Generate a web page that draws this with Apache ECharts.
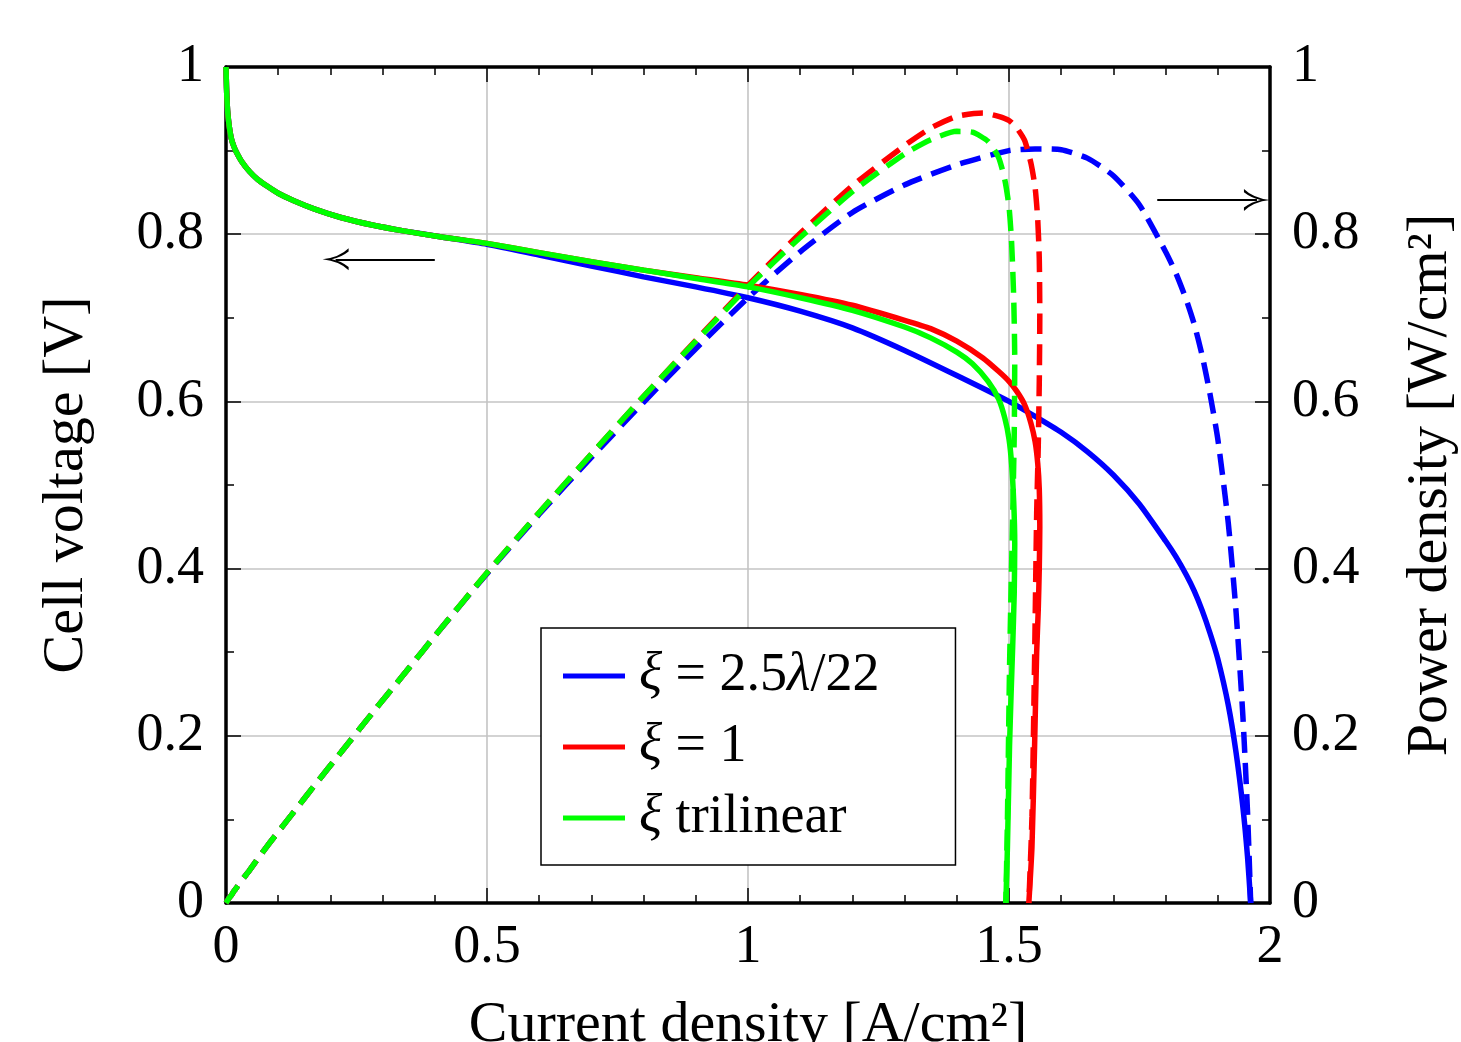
<!DOCTYPE html>
<html>
<head>
<meta charset="utf-8">
<title>Polarization curves</title>
</head>
<body style="margin:0">
<div id="main" style="width:1461px;height:1042px;"></div>
<script src="https://cdn.jsdelivr.net/npm/echarts@6/dist/echarts.min.js"></script>
<script>
// current density [A/cm2], cell voltage [V], power density [W/cm2]
var curBlue = [0, 0.001, 0.003, 0.006, 0.01, 0.015, 0.02, 0.03, 0.045, 0.06, 0.08, 0.1, 0.13, 0.17, 0.22, 0.28, 0.34, 0.41, 0.5,
  0.6, 0.7, 0.8, 0.9, 1.0, 1.1, 1.2, 1.3, 1.4, 1.5, 1.55, 1.6, 1.65, 1.7, 1.75, 1.8, 1.82, 1.84, 1.855, 1.87, 1.885, 1.9, 1.92, 1.935, 1.948, 1.957, 1.963];
var voltBlue = [1.0, 0.975, 0.948, 0.93, 0.915, 0.905, 0.898, 0.887, 0.875, 0.866, 0.857, 0.849, 0.84, 0.83, 0.82, 0.811, 0.804, 0.797, 0.788,
  0.775, 0.762, 0.749, 0.737, 0.724, 0.708, 0.688, 0.661, 0.631, 0.600, 0.582, 0.563, 0.540, 0.512, 0.477, 0.433, 0.414, 0.392, 0.373, 0.350, 0.323, 0.292, 0.237, 0.180, 0.115, 0.055, 0];
var powBlue = [0, 0.001, 0.003, 0.006, 0.009, 0.014, 0.018, 0.027, 0.039, 0.052, 0.069, 0.085, 0.109, 0.141, 0.180, 0.227, 0.273, 0.327, 0.394,
  0.465, 0.533, 0.599, 0.663, 0.724, 0.779, 0.826, 0.859, 0.883, 0.900, 0.902, 0.901, 0.891, 0.870, 0.835, 0.779, 0.753, 0.721, 0.692, 0.655, 0.609, 0.555, 0.455, 0.348, 0.224, 0.108, 0];

var curRed = [0, 0.001, 0.003, 0.006, 0.01, 0.015, 0.02, 0.03, 0.045, 0.06, 0.08, 0.1, 0.13, 0.17, 0.22, 0.28, 0.34, 0.41, 0.5,
  0.6, 0.7, 0.8, 0.9, 1.0, 1.1, 1.2, 1.3, 1.35, 1.4, 1.45, 1.48, 1.5, 1.515, 1.53, 1.542, 1.55, 1.555, 1.558, 1.559, 1.558, 1.556, 1.553, 1.549, 1.544, 1.538];
var voltRed = [1.0, 0.975, 0.948, 0.93, 0.915, 0.905, 0.898, 0.887, 0.875, 0.866, 0.857, 0.849, 0.84, 0.83, 0.82, 0.811, 0.804, 0.797, 0.789,
  0.778, 0.767, 0.757, 0.748, 0.739, 0.728, 0.715, 0.697, 0.687, 0.672, 0.652, 0.636, 0.624, 0.612, 0.596, 0.574, 0.552, 0.526, 0.495, 0.450, 0.400, 0.350, 0.300, 0.187, 0.067, 0];
var powRed = [0, 0.001, 0.003, 0.006, 0.009, 0.014, 0.018, 0.027, 0.039, 0.052, 0.069, 0.085, 0.109, 0.141, 0.180, 0.227, 0.273, 0.327, 0.395,
  0.467, 0.537, 0.606, 0.673, 0.739, 0.801, 0.858, 0.906, 0.927, 0.941, 0.945, 0.941, 0.936, 0.927, 0.912, 0.885, 0.856, 0.818, 0.771, 0.702, 0.623, 0.545, 0.466, 0.290, 0.103, 0];

var curGreen = [0, 0.001, 0.003, 0.006, 0.01, 0.015, 0.02, 0.03, 0.045, 0.06, 0.08, 0.1, 0.13, 0.17, 0.22, 0.28, 0.34, 0.41, 0.5,
  0.6, 0.7, 0.8, 0.9, 1.0, 1.1, 1.2, 1.3, 1.35, 1.4, 1.43, 1.46, 1.48, 1.492, 1.5, 1.505, 1.509, 1.511, 1.510, 1.507, 1.504, 1.501, 1.497, 1.494];
var voltGreen = [1.0, 0.975, 0.948, 0.93, 0.915, 0.905, 0.898, 0.887, 0.875, 0.866, 0.857, 0.849, 0.84, 0.83, 0.82, 0.811, 0.804, 0.797, 0.789,
  0.778, 0.767, 0.757, 0.747, 0.737, 0.724, 0.709, 0.689, 0.676, 0.659, 0.645, 0.624, 0.603, 0.580, 0.555, 0.525, 0.480, 0.430, 0.370, 0.306, 0.250, 0.187, 0.067, 0];
var powGreen = [0, 0.001, 0.003, 0.006, 0.009, 0.014, 0.018, 0.027, 0.039, 0.052, 0.069, 0.085, 0.109, 0.141, 0.180, 0.227, 0.273, 0.327, 0.395,
  0.467, 0.537, 0.606, 0.672, 0.737, 0.796, 0.851, 0.896, 0.913, 0.923, 0.922, 0.911, 0.892, 0.865, 0.833, 0.790, 0.724, 0.650, 0.559, 0.461, 0.376, 0.281, 0.100, 0];

var names = ['ξ = 2.5λ/22', 'ξ = 1', 'ξ trilinear'];
var legendText = {
  'ξ = 2.5λ/22': '{it|ξ} = 2.5{it2|λ}/22',
  'ξ = 1': '{it|ξ} = 1',
  'ξ trilinear': '{it|ξ} trilinear'
};
var xTicks = [0, 0.5, 1, 1.5, 2];
var yTicks = [0, 0.2, 0.4, 0.6, 0.8, 1];

function pairs(xs, ys) {
  var out = [];
  for (var i = 0; i < xs.length; i++) out.push([xs[i], ys[i]]);
  return out;
}
function fmt(v) { return String(Math.round(v * 10) / 10); }

var FONT = 'Liberation Serif';
var arrowHead = 'path://M6,0 Q5,9 0,14 L1.8,14 Q5,10 6,5 Q7,10 10.2,14 L12,14 Q7,9 6,0 Z';

function solid(name, color, xs, ys) {
  return {
    name: name, type: 'line', xAxisIndex: 0, yAxisIndex: 0,
    data: pairs(xs, ys), showSymbol: false, symbol: 'none', smooth: 0.2,
    color: color,
    lineStyle: { color: color, width: 5.5 }
  };
}
function dashed(name, color, xs, ys) {
  return {
    name: name, type: 'line', xAxisIndex: 0, yAxisIndex: 1,
    data: pairs(xs, ys), showSymbol: false, symbol: 'none', smooth: 0.2,
    color: color,
    lineStyle: { color: color, width: 5.5, type: [21, 10], cap: 'butt' }
  };
}
function arrow(from, to) {
  return {
    silent: true, symbol: ['none', arrowHead], symbolSize: [22, 26],
    lineStyle: { color: '#000', width: 2, type: 'solid' },
    label: { show: false },
    data: [[{ coord: from }, { coord: to }]]
  };
}

var sBlueV = solid(names[0], '#0000ff', curBlue, voltBlue);
sBlueV.markLine = arrow([0.4, 0.77], [0.21, 0.77]);
var sBlueP = dashed('P1', '#0000ff', curBlue, powBlue);
sBlueP.markLine = arrow([1.784, 0.841], [1.975, 0.841]);

var axisLine = { show: true, onZero: false, lineStyle: { color: '#000', width: 3.5 } };
var tick = { show: true, inside: true, length: 15, lineStyle: { color: '#000', width: 1.5 } };

var chart = echarts.init(document.getElementById('main'));
chart.setOption({
  animation: false,
  backgroundColor: '#fff',
  grid: { left: 226, right: 191, top: 67, bottom: 139, outerBoundsMode: 'none', containLabel: false },
  legend: {
    data: names,
    orient: 'vertical',
    left: 541, top: 628,
    padding: [21, 76, 20, 22],
    itemGap: 17,
    itemWidth: 62, itemHeight: 5,
    icon: 'rect',
    backgroundColor: '#fff',
    borderColor: '#000', borderWidth: 1.5,
    formatter: function (n) { return legendText[n]; },
    textStyle: {
      fontFamily: FONT, fontSize: 54, color: '#000', lineHeight: 52,
      rich: {
        it: { fontFamily: FONT, fontSize: 54, fontStyle: 'italic', color: '#000', lineHeight: 52, padding: [0, 0, 0, 9] },
        it2: { fontFamily: FONT, fontSize: 54, fontStyle: 'italic', color: '#000', lineHeight: 52 }
      }
    }
  },
  xAxis: [{
    type: 'value', position: 'bottom', min: 0, max: 2, interval: 0.5,
    name: 'Current density [A/cm²]', nameLocation: 'middle', nameGap: 94,
    nameTextStyle: { fontFamily: FONT, fontSize: 58, color: '#000' },
    axisLine: axisLine, axisTick: tick,
    minorTick: { show: true, splitNumber: 5, length: 8, lineStyle: { color: '#000', width: 1.5 } },
    axisLabel: { fontFamily: FONT, fontSize: 54, color: '#000', margin: 18,
      formatter: function (v) { return xTicks.indexOf(v) >= 0 ? fmt(v) : ''; } },
    splitLine: { show: true, lineStyle: { color: '#c4c4c4', width: 1.6 } }
  }, {
    type: 'value', position: 'top', min: 0, max: 2, interval: 0.5,
    axisLine: axisLine, axisTick: tick,
    minorTick: { show: true, splitNumber: 5, length: 8, lineStyle: { color: '#000', width: 1.5 } },
    axisLabel: { show: false }, splitLine: { show: false }
  }],
  yAxis: [{
    type: 'value', position: 'left', min: 0, max: 1, interval: 0.2,
    name: 'Cell voltage [V]', nameLocation: 'middle', nameGap: 130, nameRotate: 90,
    nameTextStyle: { fontFamily: FONT, fontSize: 58, color: '#000' },
    axisLine: axisLine, axisTick: tick,
    minorTick: { show: true, splitNumber: 2, length: 8, lineStyle: { color: '#000', width: 1.5 } },
    axisLabel: { fontFamily: FONT, fontSize: 54, color: '#000', margin: 22,
      formatter: function (v) { return yTicks.indexOf(Math.round(v * 10) / 10) >= 0 ? fmt(v) : ''; } },
    splitLine: { show: true, lineStyle: { color: '#c4c4c4', width: 1.6 } }
  }, {
    type: 'value', position: 'right', min: 0, max: 1, interval: 0.2,
    name: 'Power density [W/cm²]', nameLocation: 'middle', nameGap: 132, nameRotate: 90,
    nameTextStyle: { fontFamily: FONT, fontSize: 58, color: '#000' },
    axisLine: axisLine, axisTick: tick,
    minorTick: { show: true, splitNumber: 2, length: 8, lineStyle: { color: '#000', width: 1.5 } },
    axisLabel: { fontFamily: FONT, fontSize: 54, color: '#000', margin: 22,
      formatter: function (v) { return fmt(v); } },
    splitLine: { show: false }
  }],
  series: [
    sBlueV,
    sBlueP,
    solid(names[1], '#ff0000', curRed, voltRed),
    dashed('P2', '#ff0000', curRed, powRed),
    solid(names[2], '#00ff00', curGreen, voltGreen),
    dashed('P3', '#00ff00', curGreen, powGreen)
  ]
});
</script>
</body>
</html>
